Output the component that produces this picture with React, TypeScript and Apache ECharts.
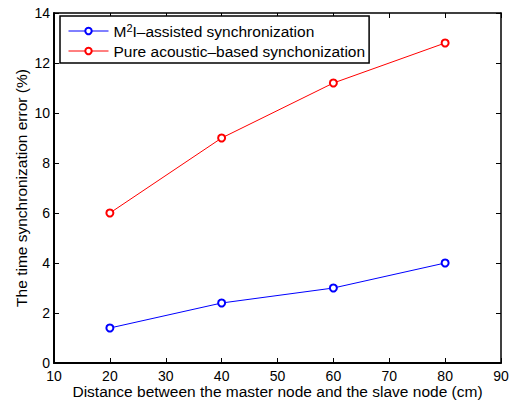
import React, { useEffect, useRef } from "react";
import * as echarts from "echarts";

const distances = [20, 40, 60, 80];
const m2iValues = [1.4, 2.4, 3.0, 4.0];
const acousticValues = [6.0, 9.0, 11.2, 12.8];
const seriesNames = ["M2I–assisted synchronization", "Pure acoustic–based synchonization"];
const xTitle = "Distance between the master node and the slave node (cm)";
const yTitle = "The time synchronization error (%)";

const FONT = "Liberation Sans, Arial, Helvetica, sans-serif";

export default function App() {
  const ref = useRef<HTMLDivElement>(null);
  useEffect(() => {
    document.body.style.margin = "0";
    if (!ref.current) return;
    const chart = echarts.init(ref.current, null, { renderer: "svg" });
    const pair = (xs: number[], ys: number[]) => xs.map((x, i) => [x, ys[i]]);
    const mkAxis = (lw: number) => ({
      axisLine: { show: true, onZero: false, lineStyle: { color: "#000", width: lw } },
      axisTick: { show: true, inside: true, length: 5, lineStyle: { color: "#000", width: 1 } },
      splitLine: { show: false },
    });
    chart.setOption({
      animation: false,
      backgroundColor: "#fff",
      textStyle: { fontFamily: FONT },
      grid: { left: 54, right: 8, top: 13, bottom: 41, containLabel: false, outerBoundsMode: "none" },
      legend: {
        orient: "vertical",
        left: 60,
        top: 16,
        data: seriesNames,
        itemWidth: 40,
        itemHeight: 8,
        itemGap: 2,
        padding: [6, 4, 3, 8],
        borderColor: "#000",
        borderWidth: 1.5,
        backgroundColor: "#fff",
        lineStyle: { width: 1 },
        itemStyle: { borderWidth: 0.8 },
        textStyle: {
          fontFamily: FONT,
          fontSize: 15.5,
          lineHeight: 18,
          color: "#000",
          rich: {
            sup: { fontSize: 11, verticalAlign: "top", lineHeight: 12, fontFamily: FONT, color: "#000" },
            n: { fontSize: 15.5, lineHeight: 18, fontFamily: FONT, color: "#000" },
          },
        },
        formatter: (name: string) =>
          name.startsWith("M2I") ? "{n|M}{sup|2}{n|" + name.slice(2) + "}" : name,
      },
      xAxis: [
        {
          type: "value",
          min: 10,
          max: 90,
          interval: 10,
          position: "bottom",
          name: xTitle,
          nameLocation: "middle",
          nameGap: 20,
          nameMoveOverlap: false,
          nameTextStyle: { fontFamily: FONT, fontSize: 15.5, color: "#000" },
          axisLabel: { color: "#000", fontSize: 14, lineHeight: 12, margin: 7, fontFamily: FONT },
          ...mkAxis(2),
        },
        {
          type: "value",
          min: 10,
          max: 90,
          interval: 10,
          position: "top",
          axisLabel: { show: false },
          ...mkAxis(1.5),
        },
      ],
      yAxis: [
        {
          type: "value",
          min: 0,
          max: 14,
          interval: 2,
          position: "left",
          name: yTitle,
          nameLocation: "middle",
          nameGap: 25,
          nameMoveOverlap: false,
          nameTextStyle: { fontFamily: FONT, fontSize: 15.5, color: "#000" },
          axisLabel: { color: "#000", fontSize: 14, lineHeight: 12, margin: 4, fontFamily: FONT },
          ...mkAxis(2),
        },
        {
          type: "value",
          min: 0,
          max: 14,
          interval: 2,
          position: "right",
          axisLabel: { show: false },
          ...mkAxis(1.5),
        },
      ],
      series: [
        {
          name: seriesNames[0],
          type: "line",
          data: pair(distances, m2iValues),
          symbol: "emptyCircle",
          symbolSize: 7,
          color: "#0000ff",
          lineStyle: { width: 1, color: "#0000ff" },
          itemStyle: { color: "#0000ff", borderWidth: 0.8 },
        },
        {
          name: seriesNames[1],
          type: "line",
          data: pair(distances, acousticValues),
          symbol: "emptyCircle",
          symbolSize: 7,
          color: "#ff0000",
          lineStyle: { width: 1, color: "#ff0000" },
          itemStyle: { color: "#ff0000", borderWidth: 0.8 },
        },
      ],
    });
    return () => chart.dispose();
  }, []);
  return <div ref={ref} style={{ width: 509, height: 404 }} />;
}
